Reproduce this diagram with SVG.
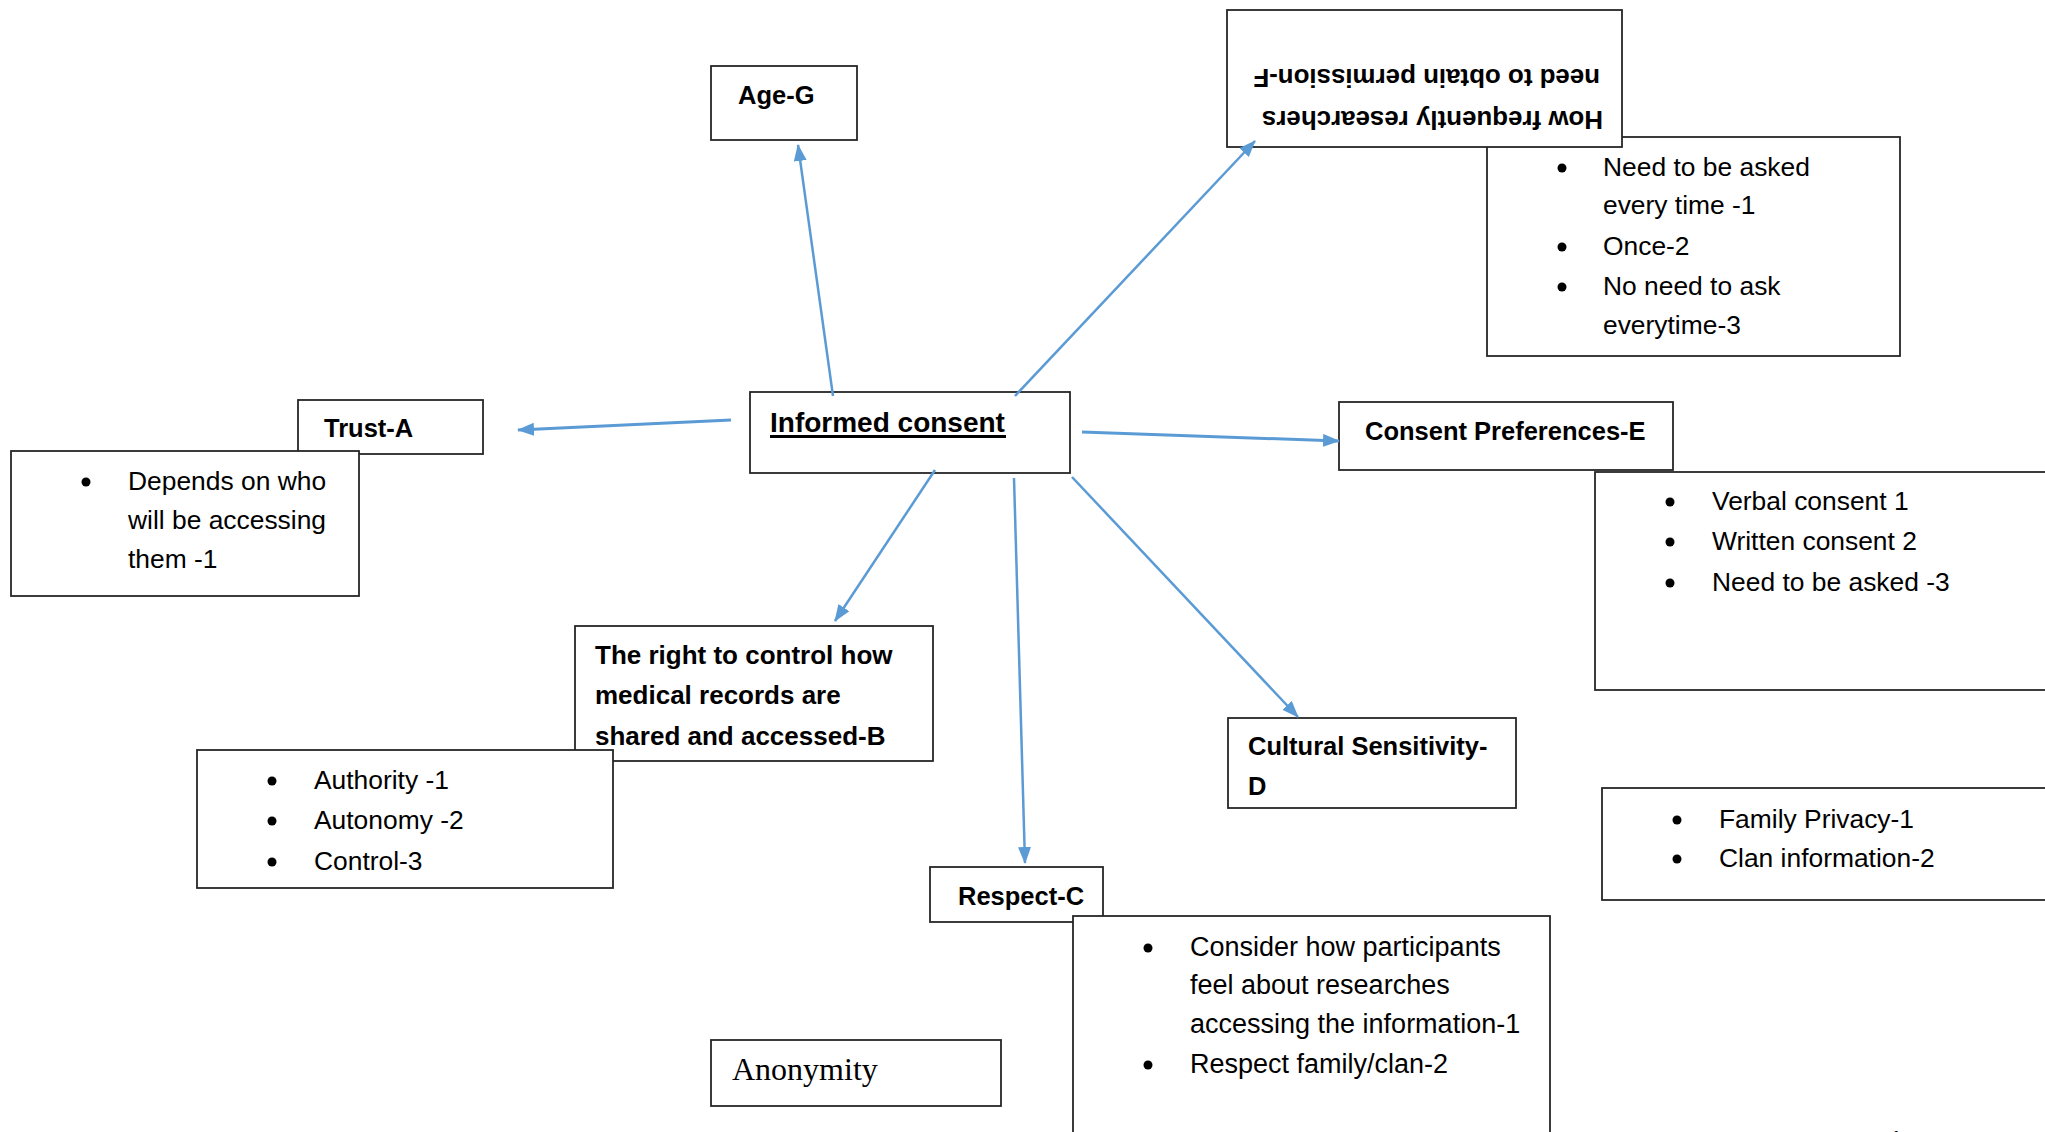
<svg xmlns="http://www.w3.org/2000/svg" width="2045" height="1132" viewBox="0 0 2045 1132">
<defs>
<style>
.box{fill:#fff;stroke:#262626;stroke-width:1.8}
.lbl{font-family:"Liberation Sans",Arial,sans-serif;font-weight:bold;font-size:25.5px;fill:#000}
.itm{font-family:"Liberation Sans",Arial,sans-serif;font-size:26.4px;fill:#000}
.con{stroke:#5B9BD5;stroke-width:2.5;fill:none;marker-end:url(#ah)}
.bul{fill:#000}
</style>
<marker id="ah" markerUnits="userSpaceOnUse" markerWidth="18" markerHeight="14" refX="16" refY="6.5" orient="auto">
<path d="M0,0 L17,6.5 L0,13 z" fill="#5B9BD5"/>
</marker>
</defs>
<rect width="2045" height="1132" fill="#fff"/>

<g id="node-f-list">
<rect class="box" x="1487" y="137" width="413" height="219"/>
<circle class="bul" cx="1562" cy="168" r="4.5"/>
<text class="itm" x="1603" y="176">Need to be asked</text>
<text class="itm" x="1603" y="214">every time -1</text>
<circle class="bul" cx="1562" cy="247" r="4.5"/>
<text class="itm" x="1603" y="255">Once-2</text>
<circle class="bul" cx="1562" cy="287" r="4.5"/>
<text class="itm" x="1603" y="295">No need to ask</text>
<text class="itm" x="1603" y="334">everytime-3</text>
</g>

<g id="node-f">
<rect class="box" x="1227" y="10" width="395" height="137"/>
<g transform="rotate(180 1424.5 78.5)">
<text class="lbl" x="1246" y="46" style="font-size:25.9px">How frequently researchers</text>
<text class="lbl" x="1249" y="88" style="font-size:25.9px">need to obtain permission-F</text>
</g>
</g>

<g id="node-age">
<rect class="box" x="711" y="66" width="146" height="74"/>
<text class="lbl" x="738" y="104">Age-G</text>
</g>

<g id="node-informed">
<rect class="box" x="750" y="392" width="320" height="81"/>
<text class="lbl" x="770" y="432" style="font-size:28px">Informed consent</text>
<rect x="770" y="435" width="236" height="3" fill="#000"/>
</g>

<g id="node-trust">
<rect class="box" x="298" y="400" width="185" height="54"/>
<text class="lbl" x="324" y="437">Trust-A</text>
</g>

<g id="node-trust-list">
<rect class="box" x="11" y="451" width="348" height="145"/>
<circle class="bul" cx="86" cy="482" r="4.5"/>
<text class="itm" x="128" y="490">Depends on who</text>
<text class="itm" x="128" y="529">will be accessing</text>
<text class="itm" x="128" y="568">them -1</text>
</g>

<g id="node-e">
<rect class="box" x="1339" y="402" width="334" height="68"/>
<text class="lbl" x="1365" y="440">Consent Preferences-E</text>
</g>

<g id="node-e-list">
<rect class="box" x="1595" y="472" width="470" height="218"/>
<circle class="bul" cx="1670" cy="502" r="4.5"/>
<text class="itm" x="1712" y="510">Verbal consent 1</text>
<circle class="bul" cx="1670" cy="542" r="4.5"/>
<text class="itm" x="1712" y="550">Written consent 2</text>
<circle class="bul" cx="1670" cy="583" r="4.5"/>
<text class="itm" x="1712" y="591">Need to be asked -3</text>
</g>

<g id="node-b">
<rect class="box" x="575" y="626" width="358" height="135"/>
<text class="lbl" x="595" y="664" style="font-size:26px">The right to control how</text>
<text class="lbl" x="595" y="704" style="font-size:26px">medical records are</text>
<text class="lbl" x="595" y="745" style="font-size:26px">shared and accessed-B</text>
</g>

<g id="node-b-list">
<rect class="box" x="197" y="750" width="416" height="138"/>
<circle class="bul" cx="272" cy="781" r="4.5"/>
<text class="itm" x="314" y="789">Authority -1</text>
<circle class="bul" cx="272" cy="821" r="4.5"/>
<text class="itm" x="314" y="829">Autonomy -2</text>
<circle class="bul" cx="272" cy="862" r="4.5"/>
<text class="itm" x="314" y="870">Control-3</text>
</g>

<g id="node-d">
<rect class="box" x="1228" y="718" width="288" height="90"/>
<text class="lbl" x="1248" y="755">Cultural Sensitivity-</text>
<text class="lbl" x="1248" y="795">D</text>
</g>

<g id="node-d-list">
<rect class="box" x="1602" y="788" width="463" height="112"/>
<circle class="bul" cx="1677" cy="820" r="4.5"/>
<text class="itm" x="1719" y="828">Family Privacy-1</text>
<circle class="bul" cx="1677" cy="859" r="4.5"/>
<text class="itm" x="1719" y="867">Clan information-2</text>
</g>

<g id="node-c">
<rect class="box" x="930" y="867" width="173" height="55"/>
<text class="lbl" x="958" y="905">Respect-C</text>
</g>

<g id="node-c-list">
<rect class="box" x="1073" y="916" width="477" height="240"/>
<circle class="bul" cx="1148" cy="948" r="4.5"/>
<text class="itm" x="1190" y="956" style="font-size:27px">Consider how participants</text>
<text class="itm" x="1190" y="994" style="font-size:27px">feel about researches</text>
<text class="itm" x="1190" y="1033" style="font-size:27px">accessing the information-1</text>
<circle class="bul" cx="1148" cy="1065" r="4.5"/>
<text class="itm" x="1190" y="1073" style="font-size:27px">Respect family/clan-2</text>
</g>

<g id="node-anonymity">
<rect class="box" x="711" y="1040" width="290" height="66"/>
<text x="732" y="1080" style="font-family:'Liberation Serif','Times New Roman',serif;font-size:32px;fill:#000">Anonymity</text>
</g>

<text x="1890" y="1146" style="font-family:'Liberation Sans',Arial,sans-serif;font-size:22px;fill:#000">1</text>

<g id="connectors">
<line class="con" x1="833" y1="396" x2="798" y2="145"/>
<line class="con" x1="1015" y1="396" x2="1255" y2="141"/>
<line class="con" x1="731" y1="420" x2="518" y2="430" style="stroke-width:3"/>
<line class="con" x1="1082" y1="432" x2="1339" y2="441" style="stroke-width:3"/>
<line class="con" x1="935" y1="470" x2="835" y2="621"/>
<line class="con" x1="1014" y1="478" x2="1025" y2="863"/>
<line class="con" x1="1072" y1="477" x2="1298" y2="717"/>
</g>
</svg>
